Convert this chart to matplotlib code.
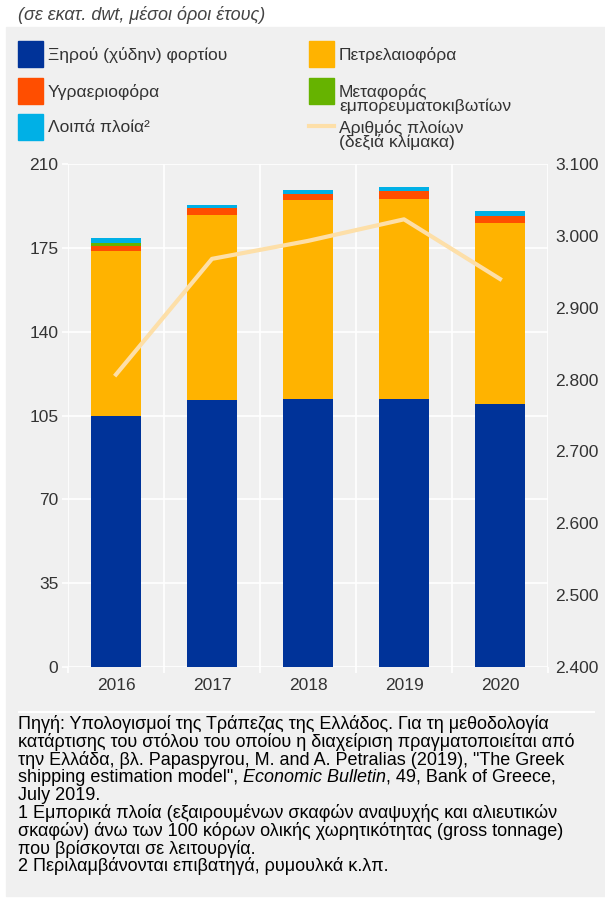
import matplotlib
matplotlib.use("Agg")
import matplotlib.pyplot as plt
import numpy as np
from matplotlib.patches import Rectangle
from matplotlib.lines import Line2D
from matplotlib.ticker import FuncFormatter

plt.rcParams["font.family"] = ["Liberation Sans", "DejaVu Sans"]

### data
years = ["2016", "2017", "2018", "2019", "2020"]
dry_bulk = [104.8, 111.6, 112.0, 112.0, 109.9]
tankers = [68.9, 77.1, 83.0, 83.4, 75.5]
lpg = [2.1, 3.1, 2.6, 3.3, 2.9]
containers = [1.2, 0.0, 0.0, 0.0, 0.0]
other = [2.1, 1.1, 1.6, 1.7, 2.1]
ships = [2807, 2968, 2993, 3023, 2940]

labels = ["Ξηρού (χύδην) φορτίου", "Πετρελαιοφόρα", "Υγραεριοφόρα",
          "Μεταφοράς\nεμπορευματοκιβωτίων", "Λοιπά πλοία²",
          "Αριθμός πλοίων\n(δεξιά κλίμακα)"]
left_ticks = [0, 35, 70, 105, 140, 175, 210]
right_ticks = [2400, 2500, 2600, 2700, 2800, 2900, 3000, 3100]

notes = [
    "Πηγή: Υπολογισμοί της Τράπεζας της Ελλάδος. Για τη μεθοδολογία",
    "κατάρτισης του στόλου του οποίου η διαχείριση πραγματοποιείται από",
    "την Ελλάδα, βλ. Papaspyrou, M. and A. Petralias (2019), \"The Greek",
    None,
    "July 2019.",
    "1 Εμπορικά πλοία (εξαιρουμένων σκαφών αναψυχής και αλιευτικών",
    "σκαφών) άνω των 100 κόρων ολικής χωρητικότητας (gross tonnage)",
    "που βρίσκονται σε λειτουργία.",
    "2 Περιλαμβάνονται επιβατηγά, ρυμουλκά κ.λπ.",
]
note4 = ["shipping estimation model\", ", "Economic Bulletin", ", 49, Bank of Greece,"]

c_blue = "#003399"
c_orange = "#ffb300"
c_red = "#ff4e00"
c_green = "#66b300"
c_cyan = "#00b0e6"
c_line = "#fddfa8"
c_grey = "#f0f0f0"
c_text = "#333333"

W, H = 605, 898
fx = lambda x: x / W
fy = lambda y: 1 - y / H

fig = plt.figure(figsize=(6.05, 8.98), dpi=100)
fig.patch.set_facecolor("white")
fig.patches.append(Rectangle((fx(6), fy(896)), 1, fy(27) - fy(896), transform=fig.transFigure,
                             color=c_grey, zorder=-10))
fig.lines.append(Line2D([fx(19), fx(594)], [fy(712), fy(712)], transform=fig.transFigure,
                       color="white", lw=1.5))

ax = fig.add_axes([fx(68), fy(667), 480 / W, 503 / H])
ax.set_facecolor(c_grey)
for s in ax.spines.values():
    s.set_visible(False)

x = np.arange(len(years))
bw = 0.52
b = np.zeros(len(years))
for vals, col in [(dry_bulk, c_blue), (tankers, c_orange), (lpg, c_red),
                  (containers, c_green), (other, c_cyan)]:
    ax.bar(x, vals, bw, bottom=b, color=col, zorder=3)
    b = b + np.array(vals)

ax.set_xlim(-0.5, 4.5)
ax.set_ylim(0, 210)
ax.set_yticks(left_ticks)
ax.set_xticks(x)
ax.set_xticklabels(years)
ax.set_xticks(np.arange(-0.5, 5, 1), minor=True)
ax.grid(axis="y", color="white", lw=1.2, zorder=0)
ax.grid(axis="x", which="minor", color="white", lw=1.2, zorder=0)
ax.set_axisbelow(True)
ax.tick_params(axis="x", which="major", length=0, pad=8, labelsize=12.5, labelcolor=c_text)
ax.tick_params(axis="x", which="minor", length=4, color="white", width=1.2)
ax.tick_params(axis="y", length=4, color="white", width=1.2, pad=3, labelsize=12.5,
               labelcolor=c_text)

ax2 = ax.twinx()
for s in ax2.spines.values():
    s.set_visible(False)
ax2.plot(x, ships, color=c_line, lw=3, zorder=5)
ax2.set_ylim(2400, 3100)
ax2.set_yticks(right_ticks)
ax2.yaxis.set_major_formatter(FuncFormatter(lambda v, p: f"{int(v):,}".replace(",", ".")))
ax2.tick_params(axis="y", length=0, pad=5, labelsize=12.5, labelcolor=c_text)

### title
fig.text(fx(18), fy(15), "(σε εκατ. dwt, μέσοι όροι έτους)", style="italic",
         fontsize=13, color="#444444", va="center", ha="left")

### legend
leg = [(labels[0], c_blue, 18, 54), (labels[1], c_orange, 309, 54),
       (labels[2], c_red, 18, 91), (labels[3], c_green, 309, 91),
       (labels[4], c_cyan, 18, 127)]
for lab, col, lx, ly in leg:
    fig.patches.append(Rectangle((fx(lx), fy(ly + 13)), 25 / W, 26 / H,
                                 transform=fig.transFigure, color=col))
    ty = ly + 1 if "\n" not in lab else ly + 8
    fig.text(fx(lx + 30), fy(ty), lab, fontsize=12.5, color=c_text, va="center",
             ha="left", linespacing=0.9)
fig.lines.append(Line2D([fx(309), fx(334)], [fy(126), fy(126)], transform=fig.transFigure,
                        color=c_line, lw=3))
fig.text(fx(339), fy(135), labels[5], fontsize=12.5, color=c_text, va="center",
         ha="left", linespacing=0.9)

### notes
fig.canvas.draw()
r = fig.canvas.get_renderer()
y0 = 724
for i, line in enumerate(notes):
    yy = fy(y0 + i * 17.8)
    if line is not None:
        fig.text(fx(18), yy, line, fontsize=13, color="black", va="center", ha="left")
    else:
        xx = fx(18)
        for j, part in enumerate(note4):
            t = fig.text(xx, yy, part, fontsize=13, color="black", va="center", ha="left",
                         style="italic" if j == 1 else "normal")
            bb = t.get_window_extent(renderer=r)
            xx += bb.width / fig.bbox.width

fig.savefig("out.png", dpi=100)
